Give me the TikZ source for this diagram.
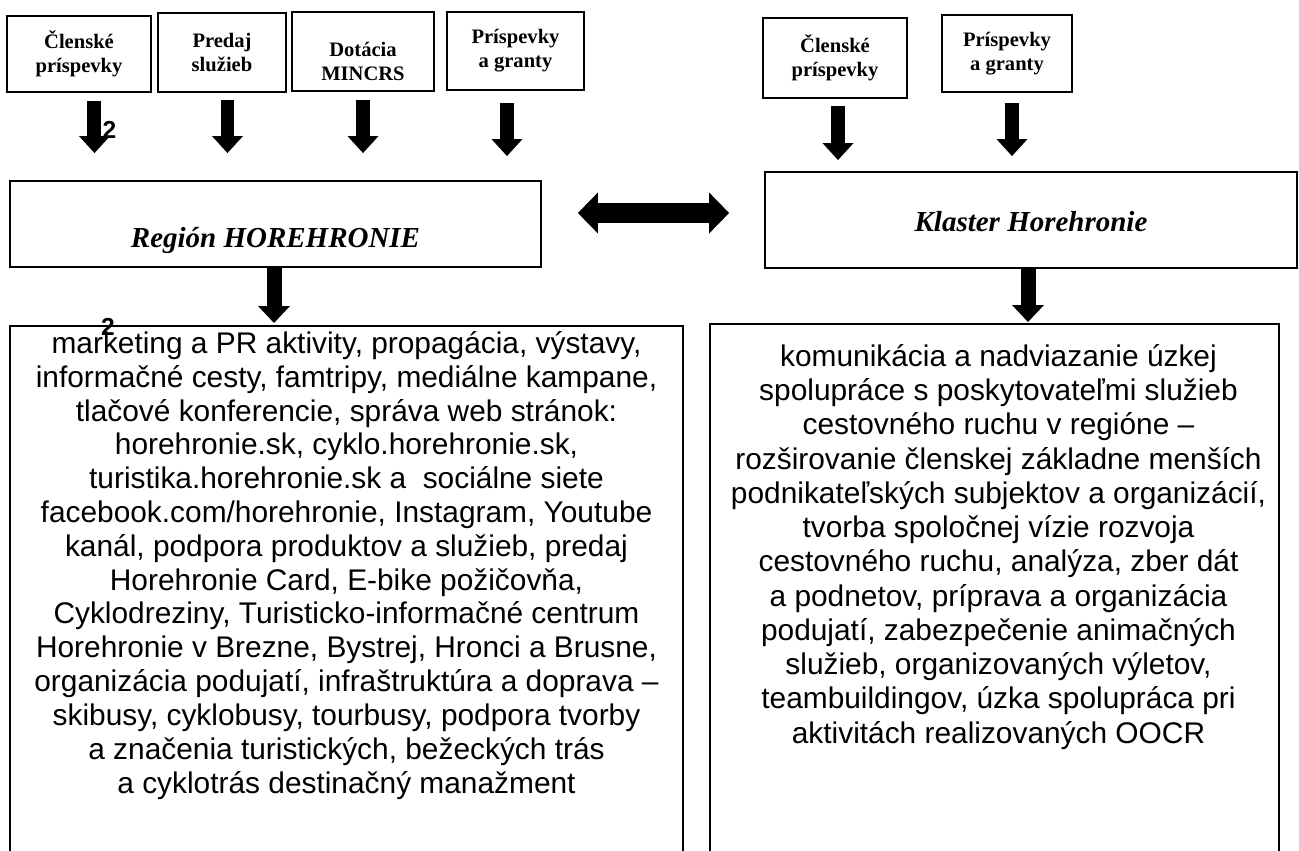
\documentclass[tikz,border=0pt]{standalone}
\usepackage{fontspec}
\usetikzlibrary{arrows.meta}
\newfontfamily\timesfont{Liberation Serif}
\newfontfamily\arialfont{Liberation Sans}
\tikzset{
  zdroj/.style={draw,line width=1.1pt,inner sep=0pt,align=center,
    font=\timesfont\bfseries\fontsize{11.7}{13.7}\selectfont},
  org/.style={draw,line width=1.1pt,inner sep=0pt,
    font=\timesfont\bfseries\itshape\fontsize{16.5}{19}\selectfont},
  ramec/.style={draw,line width=1.1pt,inner sep=0pt,anchor=north,minimum height=12cm},
  popis/.style={align=center,inner sep=0pt,anchor=north,
    font=\arialfont\fontsize{17}{19.5}\selectfont},
  dva/.style={inner sep=0pt,font=\arialfont\bfseries\fontsize{14}{16}\selectfont},
  hrot/.style={line width=0.28cm,-{Triangle[width=0.62cm,length=0.34cm,line width=0pt]}},
  hrotdole/.style={line width=0.3cm,-{Triangle[width=0.64cm,length=0.34cm,line width=0pt]}},
  obojsmer/.style={line width=0.4cm,
    {Triangle[width=0.82cm,length=0.4cm,line width=0pt]}-{Triangle[width=0.82cm,length=0.4cm,line width=0pt]}}
}
\begin{document}
\begin{tikzpicture}[x=0.02cm,y=-0.02cm]
      \useasboundingbox (0,0) rectangle (1299,850);
      \clip (0,0) rectangle (1299,850);

      \node[zdroj,minimum width=2.88cm,minimum height=1.52cm] (clen) at (79,54) {Členské\\príspevky};
      \node[zdroj,minimum width=2.56cm,minimum height=1.58cm] (predaj) at (222,52.5) {Predaj\\služieb};
      \node[zdroj,minimum width=2.84cm,minimum height=1.58cm] (dotacia) at (363,51.5) {\rule{0pt}{19pt}Dotácia\\MINCRS};
      \node[zdroj,minimum width=2.74cm,minimum height=1.56cm] (prisp) at (515.5,51) {Príspevky\\a granty};
      \node[zdroj,minimum width=2.88cm,minimum height=1.6cm] (clen2) at (835,58) {Členské\\príspevky};
      \node[zdroj,minimum width=2.6cm,minimum height=1.54cm] (prisp2) at (1007,53.5) {Príspevky\\a granty};

      \node[org,minimum width=10.62cm,minimum height=1.72cm,text height=26.2pt,text depth=0pt] (reg) at (275.5,224) {Región HOREHRONIE};
      \node[org,minimum width=10.64cm,minimum height=1.92cm,text height=13.6pt,text depth=0pt] (klaster) at (1031,220) {Klaster Horehronie};

      \node[ramec,minimum width=13.46cm] (ramecL) at (346.5,325) {};
      \node[ramec,minimum width=11.38cm] (ramecR) at (994.5,323) {};

      \node[popis,font=\arialfont\fontsize{17}{19.25}\selectfont] (textL) at (346.5,331) {marketing a PR aktivity, propagácia, výstavy,\\
        informačné cesty, famtripy, mediálne kampane,\\
        tlačové konferencie, správa web stránok:\\
        horehronie.sk, cyklo.horehronie.sk,\\
        turistika.horehronie.sk a\ \ sociálne siete\\
        facebook.com/horehronie, Instagram, Youtube\\
        kanál, podpora produktov a služieb, predaj\\
        Horehronie Card, E-bike požičovňa,\\
        Cyklodreziny, Turisticko-informačné centrum\\
        Horehronie v Brezne, Bystrej, Hronci a Brusne,\\
        organizácia podujatí, infraštruktúra a doprava –\\
        skibusy, cyklobusy, tourbusy, podpora tvorby\\
        a značenia turistických, bežeckých trás\\
        a cyklotrás destinačný manažment};
      \node[popis] (textR) at (998.5,344) {komunikácia a nadviazanie úzkej\\
        spolupráce s poskytovateľmi služieb\\
        cestovného ruchu v regióne –\\
        rozširovanie členskej základne menších\\
        podnikateľských subjektov a organizácií,\\
        tvorba spoločnej vízie rozvoja\\
        cestovného ruchu, analýza, zber dát\\
        a podnetov, príprava a organizácia\\
        podujatí, zabezpečenie animačných\\
        služieb, organizovaných výletov,\\
        teambuildingov, úzka spolupráca pri\\
        aktivitách realizovaných OOCR};

      \node[dva] (dva1) at (109.5,129.5) {2};
      \node[dva] (dva2) at (108,327) {2};

      \draw[hrot,shorten <=0.16cm,shorten >=0.54cm] ([xshift=0.31cm]clen.south) -- ([xshift=0.31cm]clen.south |- reg.north);
      \draw[hrot,shorten <=0.14cm,shorten >=0.54cm] ([xshift=0.11cm]predaj.south) -- ([xshift=0.11cm]predaj.south |- reg.north);
      \draw[hrot,shorten <=0.16cm,shorten >=0.54cm] (dotacia.south) -- (dotacia.south |- reg.north);
      \draw[hrot,shorten <=0.24cm,shorten >=0.48cm] ([xshift=-0.17cm]prisp.south) -- ([xshift=-0.17cm]prisp.south |- reg.north);
      \draw[hrot,shorten <=0.14cm,shorten >=0.22cm] ([xshift=0.06cm]clen2.south) -- ([xshift=0.06cm]clen2.south |- klaster.north);
      \draw[hrot,shorten <=0.2cm,shorten >=0.3cm] ([xshift=0.1cm]prisp2.south) -- ([xshift=0.1cm]prisp2.south |- klaster.north);

      \draw[obojsmer,shorten <=0.72cm,shorten >=0.7cm] ([yshift=0.22cm]reg.east) -- ([yshift=0.22cm]reg.east -| klaster.west);

      \draw[hrotdole,shorten >=0.04cm] ([xshift=-0.03cm]reg.south) -- ([xshift=-0.03cm]reg.south |- ramecL.north);
      \draw[hrotdole,shorten >=0.02cm] ([xshift=-0.06cm]klaster.south) -- ([xshift=-0.06cm]klaster.south |- ramecR.north);
    \end{tikzpicture}
\end{document}
